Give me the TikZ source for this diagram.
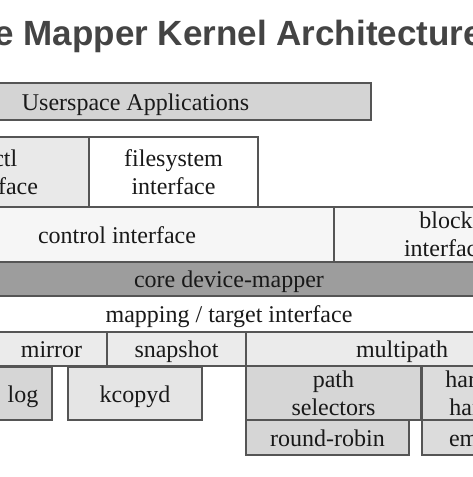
\documentclass[tikz,border=0pt]{standalone}
\usepackage{fontspec}
\setmainfont{Liberation Serif}
\newfontfamily\titlefont{Liberation Sans}
\definecolor{lineg}{HTML}{555555}
\definecolor{titleg}{HTML}{444444}
\definecolor{userg}{HTML}{D4D4D4}
\definecolor{ioctlg}{HTML}{E9E9E9}
\definecolor{ctrlg}{HTML}{F6F6F6}
\definecolor{coreg}{HTML}{9D9D9D}
\definecolor{targ}{HTML}{EBEBEB}
\definecolor{logg}{HTML}{D6D6D6}
\definecolor{kcg}{HTML}{E5E5E5}
\definecolor{mpg}{HTML}{D6D6D6}
\definecolor{hwg}{HTML}{DCDCDC}
\tikzset{
  box/.style={draw=lineg, line width=1.3pt, inner sep=0pt, outer sep=0pt,
    align=center, font=\fontsize{24}{28}\selectfont, text=black!90},
  oneline/.style={text height=21pt, text depth=4pt},
}
\begin{document}
\begin{tikzpicture}[x=1pt,y=-1pt]
\useasboundingbox (0,0) rectangle (473,477);
\clip (0,0) rectangle (473,477);
\fill[white] (0,0) rectangle (473,477);
\node[anchor=base east, inner sep=0pt, text=titleg, font=\titlefont\bfseries\fontsize{35}{40}\selectfont] (title) at (483,45) {Device Mapper Kernel Architecture};
\node[box, oneline, fill=userg, minimum width=471pt, minimum height=37pt] (user) at (135.5,101.5) {Userspace Applications};
\node[box, fill=ioctlg, minimum width=186pt, minimum height=70pt] (ioctl) at (-4,172) {ioctl\\interface};
\node[box, fill=white, minimum width=169pt, minimum height=70pt] (fs) at (173.5,172) {filesystem\\interface};
\node[box, oneline, fill=ctrlg, minimum width=434pt, minimum height=55pt] (ctrl) at (117,234.5) {control interface};
\node[box, fill=ctrlg, minimum width=224pt, minimum height=55pt] (block) at (446,234.5) {block\\interface};
\node[box, oneline, fill=coreg, minimum width=658pt, minimum height=34pt] (core) at (229,279) {core device-mapper};
\node[box, oneline, fill=white, minimum width=658pt, minimum height=36pt] (map) at (229,314) {mapping / target interface};
\node[box, oneline, fill=targ, minimum width=111pt, minimum height=34pt] (mirror) at (51.5,349) {mirror};
\node[box, oneline, fill=targ, minimum width=139pt, minimum height=34pt] (snap) at (176.5,349) {snapshot};
\node[box, oneline, fill=targ, minimum width=312pt, minimum height=34pt] (multi) at (402,349) {multipath};
\node[box, oneline, fill=logg, minimum width=58pt, minimum height=53pt] (log) at (23,393.5) {log};
\node[box, oneline, fill=kcg, minimum width=134pt, minimum height=53pt] (kcopyd) at (135,393.5) {kcopyd};
\node[box, fill=mpg, minimum width=175pt, minimum height=54pt] (psel) at (333.5,393) {path\\selectors};
\node[box, oneline, fill=mpg, minimum width=163pt, minimum height=35pt] (rr) at (327.5,437.5) {round-robin};
\node[box, fill=hwg, minimum width=136pt, minimum height=54pt] (hw) at (490,393) {hardware\\handlers};
\node[box, oneline, fill=hwg, minimum width=94pt, minimum height=35pt] (emc) at (469,437.5) {emc};
\end{tikzpicture}
\end{document}
